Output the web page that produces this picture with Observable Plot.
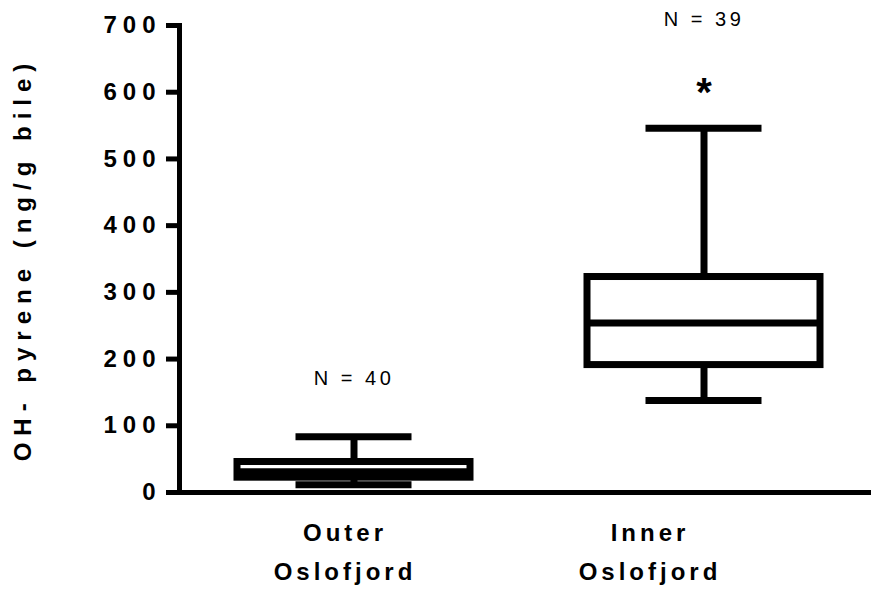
<!DOCTYPE html>
<html>
<head>
<meta charset="utf-8">
<script src="https://cdn.jsdelivr.net/npm/d3@7"></script>
<script src="https://cdn.jsdelivr.net/npm/@observablehq/plot@0.6"></script>
<style>
  html, body { margin: 0; padding: 0; background: #fff; }
  #chart svg { display: block; }
</style>
</head>
<body>
<div id="chart"></div>
<script>
// ---- data ----
const categories = ["Outer Oslofjord", "Inner Oslofjord"];
const xLabels = ["Outer\nOslofjord", "Inner\nOslofjord"];
const whiskerLow = [11.5, 138];
const q1 = [22.2, 191];
const median = [31.2, 254];
const q3 = [45.7, 323];
const whiskerHigh = [83.5, 546];
const nLabels = ["N = 40", "N = 39"];
const nLabelY = [171, 709];
const starLabels = ["", "*"];
const starY = [null, 598];
const yTicks = [0, 100, 200, 300, 400, 500, 600, 700];
const yTitle = "OH- pyrene (ng/g bile)";

const rows = categories.map((c, i) => ({
  cat: c, lo: whiskerLow[i], q1: q1[i], med: median[i], q3: q3[i], hi: whiskerHigh[i],
  n: nLabels[i], ny: nLabelY[i]
}));
const stars = categories.map((c, i) => ({cat: c, s: starLabels[i], y: starY[i]})).filter(d => d.s);

const FONT = '"Liberation Sans", Arial, Helvetica, sans-serif';
const SW = 7;

const plot = Plot.plot({
  width: 871,
  height: 590,
  marginLeft: 179,
  marginRight: -7,
  marginTop: 25,
  marginBottom: 98,
  x: {type: "band", domain: categories, paddingInner: 0.3333, paddingOuter: 0.1624, axis: null},
  y: {domain: [0, 700], axis: null},
  style: {fontFamily: FONT, background: "#fff", color: "#000", overflow: "visible"},
  marks: [
    Plot.ruleX(rows, {x: "cat", y1: "lo", y2: "q1", stroke: "#000", strokeWidth: SW}),
    Plot.ruleX(rows, {x: "cat", y1: "q3", y2: "hi", stroke: "#000", strokeWidth: SW}),
    Plot.barY(rows, {x: "cat", y1: "q1", y2: "q3", fill: "#fff", stroke: "#000", strokeWidth: SW}),
    Plot.tickY(rows, {x: "cat", y: "med", stroke: "#000", strokeWidth: SW}),
    Plot.tickY(rows, {x: "cat", y: "lo", stroke: "#000", strokeWidth: SW, insetLeft: 58.5, insetRight: 58.5}),
    Plot.tickY(rows, {x: "cat", y: "hi", stroke: "#000", strokeWidth: SW, insetLeft: 58.5, insetRight: 58.5}),
    Plot.text(rows, {x: "cat", y: "ny", text: "n", fontSize: 20, fill: "#000"}),
    Plot.text(stars, {x: "cat", y: "y", text: "s", fontSize: 40, fontWeight: "bold", fill: "#000"}),
    Plot.ruleY([0], {stroke: "#000", strokeWidth: 5}),
    Plot.frame({anchor: "left", stroke: "#000", strokeWidth: 5}),
    Plot.axisY(yTicks, {tickSize: 13, tickPadding: 5, strokeWidth: 5, stroke: "#000", fill: "#000",
      fontSize: 24, fontWeight: "bold", tickFormat: d => String(d), label: null}),
    Plot.axisX([categories[0]], {tickSize: 0, tickPadding: 21, fontSize: 24, fontWeight: "bold", fill: "#000",
      lineHeight: 1.625, dx: -9, tickFormat: d => xLabels[categories.indexOf(d)], label: null}),
    Plot.axisX([categories[1]], {tickSize: 0, tickPadding: 21, fontSize: 24, fontWeight: "bold", fill: "#000",
      lineHeight: 1.625, dx: -54, tickFormat: d => xLabels[categories.indexOf(d)], label: null}),
    Plot.text([yTitle], {frameAnchor: "left", textAnchor: "middle", rotate: -90, dx: -156, text: d => d,
      fontSize: 24, fontWeight: "bold", fill: "#000"})
  ]
});

document.getElementById("chart").appendChild(plot);

// letter spacing like the original
const svg = d3.select(plot);
svg.selectAll('g[aria-label="y-axis tick label"] text').style("letter-spacing", "6px");
svg.selectAll('g[aria-label="x-axis tick label"] text').style("letter-spacing", "4px");
svg.selectAll("text").each(function() {
  const t = this.textContent;
  if (t === yTitle) d3.select(this).style("letter-spacing", "7px");
  else if (nLabels.includes(t)) d3.select(this).style("letter-spacing", "3.5px");
});
</script>
</body>
</html>
